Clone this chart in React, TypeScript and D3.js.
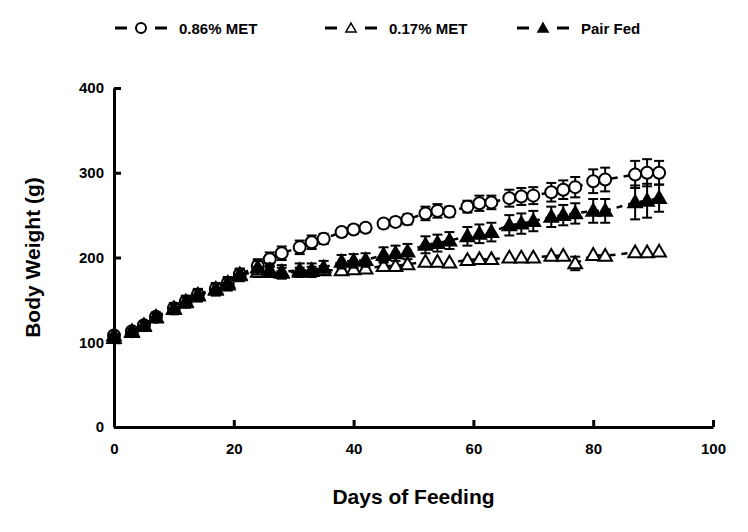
import React, { useEffect, useRef } from 'react';
import * as d3 from 'd3';

const days = [0, 3, 5, 7, 10, 12, 14, 17, 19, 21, 24, 26, 28, 31, 33, 35, 38, 40, 42, 45, 47, 49, 52, 54, 56, 59, 61, 63, 66, 68, 70, 73, 75, 77, 80, 82, 87, 89, 91];
const met086 = [108, 113, 120, 130, 140, 148, 156, 163, 170, 180, 190, 198, 205, 212, 218, 222, 230, 233, 235, 240, 242, 245, 252, 255, 254, 260, 264, 265, 270, 272, 273, 277, 280, 283, 290, 292, 298, 300, 300];
const met086Err = [4, 4, 5, 5, 6, 7, 7, 7, 7, 7, 8, 8, 8, 8, 8, 6, 5, 5, 5, 5, 5, 6, 8, 8, 6, 7, 9, 8, 10, 10, 10, 11, 11, 12, 14, 14, 16, 16, 14];
const met017 = [108, 113, 120, 130, 140, 148, 156, 163, 170, 180, 183, 183, 182, 183, 184, 185, 185, 186, 187, 190, 190, 192, 195, 195, 194, 197, 198, 198, 200, 200, 200, 202, 202, 193, 203, 202, 206, 206, 207];
const met017Err = [4, 4, 5, 5, 6, 6, 6, 6, 6, 6, 6, 6, 6, 5, 5, 5, 5, 5, 5, 5, 4, 4, 4, 4, 4, 4, 4, 4, 4, 4, 4, 4, 4, 8, 4, 4, 4, 4, 4];
const pairFed = [105, 112, 119, 129, 139, 147, 155, 162, 168, 179, 188, 185, 183, 185, 185, 188, 195, 196, 197, 203, 205, 207, 215, 217, 220, 225, 228, 230, 238, 240, 243, 248, 250, 252, 255, 255, 265, 267, 270];
const pairFedErr = [4, 4, 5, 5, 6, 6, 7, 7, 7, 7, 8, 8, 8, 8, 8, 8, 8, 8, 8, 9, 9, 9, 10, 10, 10, 11, 11, 11, 12, 12, 12, 12, 12, 12, 14, 14, 20, 20, 16];
const xTicks = [0, 20, 40, 60, 80, 100];
const yTicks = [0, 100, 200, 300, 400];
const legendLabels = ['0.86% MET', '0.17% MET', 'Pair Fed'];

export default function App() {
  const ref = useRef<SVGSVGElement>(null);
  useEffect(() => {
    const svg = d3.select(ref.current);
    svg.selectAll('*').remove();
    const font = 'Liberation Sans, Arial, sans-serif';
    const x = d3.scaleLinear().domain([0, 100]).range([114, 713]);
    const y = d3.scaleLinear().domain([0, 400]).range([427, 88]);

    const series = [
      { vals: met086, err: met086Err, shape: 'circle', fill: '#fff', open: false },
      { vals: met017, err: met017Err, shape: 'tri', fill: '#fff', open: true },
      { vals: pairFed, err: pairFedErr, shape: 'tri', fill: '#000', open: false },
    ];
    const tri = d3.symbol().type(d3.symbolTriangle).size(80);
    const line = d3.line<number>().x((_, i) => x(days[i])).y(v => y(v));

    series.forEach(s => {
      svg.append('path').attr('d', line(s.vals)).attr('fill', 'none')
        .attr('stroke', '#000').attr('stroke-width', 2.5).attr('stroke-dasharray', '6,6');
      s.vals.forEach((v, i) => {
        const cx = x(days[i]);
        svg.append('line').attr('x1', cx).attr('x2', cx)
          .attr('y1', y(v - s.err[i])).attr('y2', y(v + s.err[i])).attr('stroke', '#000').attr('stroke-width', 2);
        [v + s.err[i], v - s.err[i]].forEach((e, k) => {
          if (k === 0 && s.open && s.err[i] < 5) return;
          svg.append('line').attr('x1', cx - 5).attr('x2', cx + 5).attr('y1', y(e)).attr('y2', y(e))
            .attr('stroke', '#000').attr('stroke-width', 2);
        });
      });
      s.vals.forEach((v, i) => {
        const cx = x(days[i]);
        if (s.shape === 'circle') {
          svg.append('circle').attr('cx', cx).attr('cy', y(v)).attr('r', 6)
            .attr('fill', s.fill).attr('stroke', '#000').attr('stroke-width', 2);
        } else {
          svg.append('path').attr('d', tri()).attr('transform', `translate(${cx},${y(v) + 1})`)
            .attr('fill', s.fill).attr('stroke', '#000').attr('stroke-width', 2);
        }
      });
    });

    const xa = svg.append('g').attr('transform', 'translate(0,427)')
      .call(d3.axisBottom(x).tickValues(xTicks).tickSize(7).tickSizeOuter(0));
    const ya = svg.append('g').attr('transform', 'translate(114,0)')
      .call(d3.axisLeft(y).tickValues(yTicks).tickSize(7).tickSizeOuter(0));
    [xa, ya].forEach(a => {
      a.select('.domain').attr('stroke-width', 3);
      a.selectAll('line').attr('stroke-width', 3);
      a.selectAll('text').attr('font-family', font).attr('font-weight', 'bold').attr('font-size', 15);
    });
    xa.selectAll('line').attr('y2', 0).attr('y1', -7);
    xa.selectAll('text').attr('y', 16);
    ya.selectAll('line').attr('x2', 0).attr('x1', 7);
    ya.selectAll('text').attr('x', -10);

    svg.append('text').attr('x', x(50)).attr('y', 504).attr('text-anchor', 'middle')
      .attr('font-family', font).attr('font-weight', 'bold').attr('font-size', 21).text('Days of Feeding');
    svg.append('text').attr('transform', `translate(40,${y(200)}) rotate(-90)`).attr('text-anchor', 'middle')
      .attr('font-family', font).attr('font-weight', 'bold').attr('font-size', 21).text('Body Weight (g)');

    const lx = [115, 325, 517];
    legendLabels.forEach((lab, i) => {
      const g = svg.append('g').attr('transform', `translate(${lx[i]},28)`);
      g.append('line').attr('x1', 0).attr('x2', 12).attr('stroke', '#000').attr('stroke-width', 3);
      g.append('line').attr('x1', 40).attr('x2', 52).attr('stroke', '#000').attr('stroke-width', 3);
      if (i === 0) g.append('circle').attr('cx', 26).attr('r', 5).attr('fill', '#fff').attr('stroke', '#000').attr('stroke-width', 2);
      else g.append('path').attr('d', d3.symbol().type(d3.symbolTriangle).size(45)()).attr('transform', 'translate(26,1)')
        .attr('fill', i === 2 ? '#000' : '#fff').attr('stroke', '#000').attr('stroke-width', 1.5);
      g.append('text').attr('x', 64).attr('y', 6).attr('font-family', font).attr('font-weight', 'bold')
        .attr('font-size', 15).text(lab);
    });
  }, []);
  return <svg ref={ref} width={748} height={532} style={{ position: 'absolute', left: 0, top: 0, background: '#fff' }} />;
}
